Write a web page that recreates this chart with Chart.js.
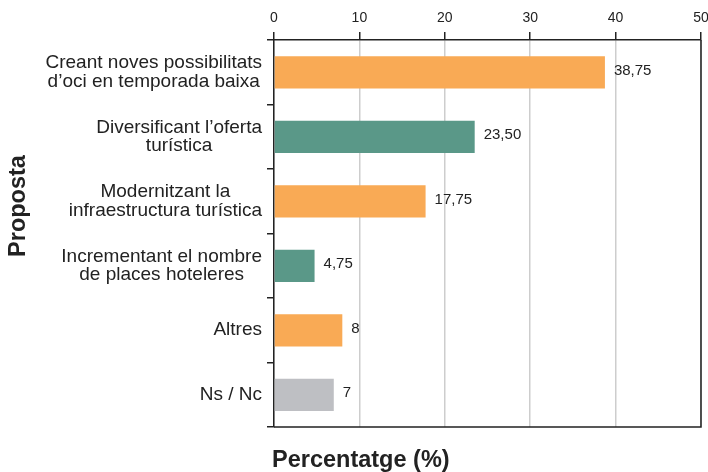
<!DOCTYPE html>
<html>
<head>
<meta charset="utf-8">
<script src="https://cdn.jsdelivr.net/npm/chart.js@4"></script>
<style>
  html, body { margin: 0; padding: 0; background: #fff; }
</style>
</head>
<body>
<canvas id="grafic" width="708" height="472"></canvas>
<script>
// Dades del gràfic
const propostes = [
  ['Creant noves possibilitats', 'd\u2019oci en temporada baixa'],
  ['Diversificant l\u2019oferta', 'turística'],
  ['Modernitzant la', 'infraestructura turística'],
  ['Incrementant el nombre', 'de places hoteleres'],
  ['Altres'],
  ['Ns / Nc']
];
const percentatges = [38.75, 23.5, 17.75, 4.75, 8, 7];
const colors = ['#F9AA55', '#5A9888', '#F9AA55', '#5A9888', '#F9AA55', '#BEBFC3'];
const ticksX = [0, 10, 20, 30, 40, 50];

const FONT = '"Liberation Sans", Arial, Helvetica, sans-serif';
const TEXT = '#222';

function formata(v) {
  return Number.isInteger(v) ? String(v) : v.toFixed(2).replace('.', ',');
}

// Etiquetes, valors, marc i títols
const etiquetes = {
  id: 'etiquetes',
  afterDraw(chart) {
    const ctx = chart.ctx;
    const area = chart.chartArea;
    const x = chart.scales.x;
    const y = chart.scales.y;
    ctx.save();

    // marc dret i inferior
    ctx.strokeStyle = TEXT;
    ctx.lineWidth = 1.5;
    ctx.beginPath();
    ctx.moveTo(area.left, area.bottom);
    ctx.lineTo(area.right, area.bottom);
    ctx.lineTo(area.right, area.top);
    ctx.stroke();

    // noms de les propostes
    ctx.fillStyle = TEXT;
    ctx.font = '19px ' + FONT;
    ctx.textAlign = 'center';
    ctx.textBaseline = 'middle';
    propostes.forEach((linies, i) => {
      const ample = Math.max(...linies.map(l => ctx.measureText(l).width));
      const cx = area.left - 12 - ample / 2;
      const cy = y.getPixelForTick(i);
      linies.forEach((l, j) => {
        ctx.fillText(l, cx, cy + (j - (linies.length - 1) / 2) * 18.5);
      });
    });

    // valors al final de cada barra
    ctx.font = '15px ' + FONT;
    ctx.textAlign = 'left';
    ctx.textBaseline = 'alphabetic';
    percentatges.forEach((v, i) => {
      ctx.fillText(formata(v), x.getPixelForValue(v) + 9, y.getPixelForTick(i) + 2.5);
    });

    // títols dels eixos
    ctx.font = 'bold 23.5px ' + FONT;
    ctx.fillText('Percentatge (%)', area.left - 2, 467);
    ctx.translate(25, 206);
    ctx.rotate(-Math.PI / 2);
    ctx.textAlign = 'center';
    ctx.fillText('Proposta', 0, 0);

    ctx.restore();
  }
};

new Chart(document.getElementById('grafic'), {
  type: 'bar',
  data: {
    labels: propostes,
    datasets: [{
      data: percentatges,
      backgroundColor: colors,
      barPercentage: 0.5,
      categoryPercentage: 1
    }]
  },
  options: {
    indexAxis: 'y',
    responsive: false,
    animation: false,
    layout: { padding: { top: 0, right: 7, bottom: 45, left: 0 } },
    plugins: { legend: { display: false }, tooltip: { enabled: false } },
    scales: {
      x: {
        position: 'top',
        min: 0,
        max: 50,
        afterBuildTicks: s => { s.ticks = ticksX.map(v => ({ value: v })); },
        afterFit: s => { s.height = 40; s.paddingLeft = 0; s.paddingRight = 0; },
        ticks: { color: TEXT, font: { family: FONT, size: 14 }, padding: 5 },
        grid: { color: '#cdcdcd', tickColor: TEXT, tickLength: 8, lineWidth: 1.5 },
        border: { color: TEXT, width: 1.5 }
      },
      y: {
        afterFit: s => { s.width = 274; },
        ticks: { display: false },
        grid: { drawOnChartArea: false, drawTicks: true, tickLength: 7, color: TEXT, lineWidth: 1.5, offset: true },
        border: { color: TEXT, width: 1.5 }
      }
    }
  },
  plugins: [etiquetes]
});
</script>
</body>
</html>
